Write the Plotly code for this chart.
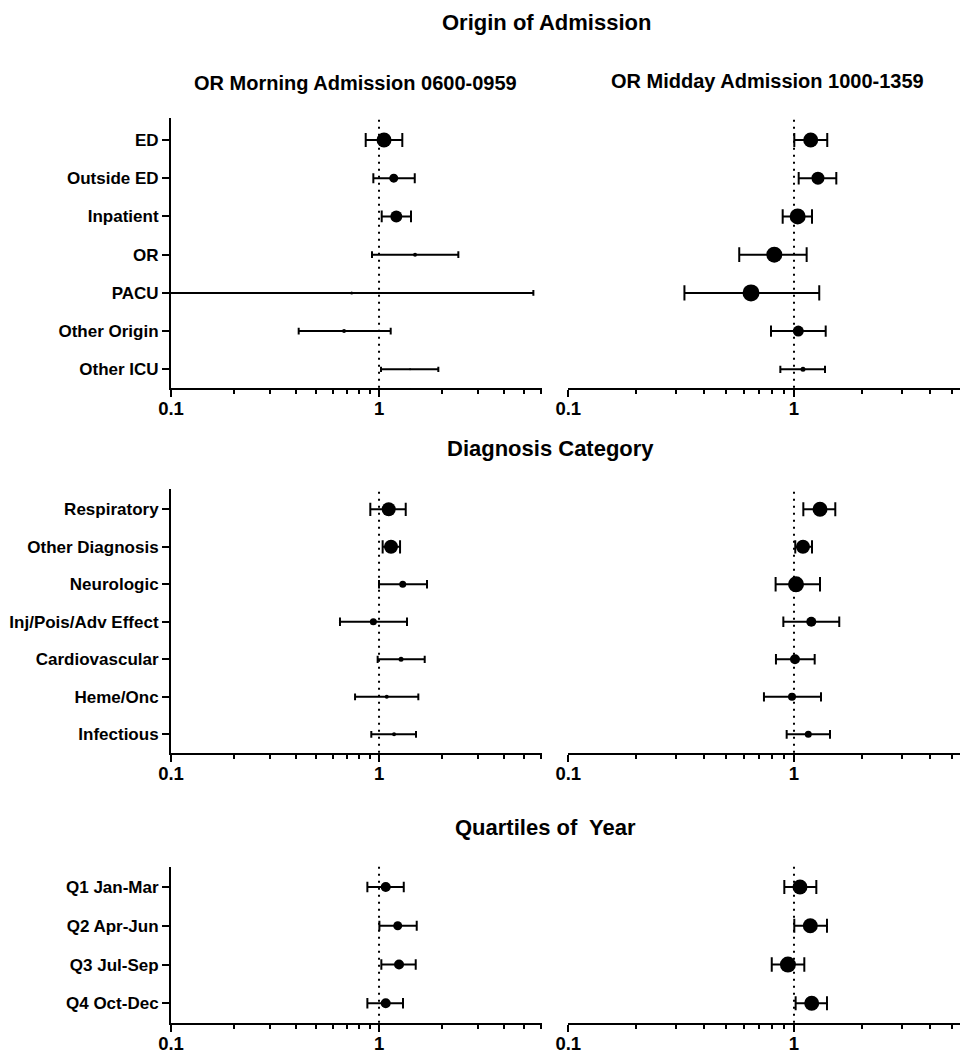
import math
import plotly.graph_objects as go

# ---------------- data ----------------
origin_labels = ["ED", "Outside ED", "Inpatient", "OR", "PACU", "Other Origin", "Other ICU"]
am_origin_or = [1.057, 1.177, 1.211, 1.49, 0.739, 0.679, 1.41]
am_origin_lo = [0.863, 0.939, 1.030, 0.925, 0.08, 0.411, 1.022]
am_origin_hi = [1.294, 1.485, 1.425, 2.406, 5.52, 1.138, 1.928]
am_origin_wt = [15, 9, 12, 4, 3, 4, 2]

md_origin_or = [1.186, 1.277, 1.038, 0.818, 0.645, 1.045, 1.096]
md_origin_lo = [1.003, 1.049, 0.891, 0.572, 0.327, 0.791, 0.870]
md_origin_hi = [1.404, 1.540, 1.202, 1.138, 1.294, 1.382, 1.372]
md_origin_wt = [15, 13, 16, 16, 17, 11, 5]

diag_labels = ["Respiratory", "Other Diagnosis", "Neurologic", "Inj/Pois/Adv Effect",
               "Cardiovascular", "Heme/Onc", "Infectious"]
am_diag_or = [1.113, 1.142, 1.300, 0.939, 1.276, 1.089, 1.181]
am_diag_lo = [0.908, 1.041, 1.000, 0.649, 0.985, 0.767, 0.918]
am_diag_hi = [1.344, 1.262, 1.701, 1.363, 1.658, 1.545, 1.506]
am_diag_wt = [14, 14, 7, 7, 5, 4, 4]

md_diag_or = [1.304, 1.096, 1.021, 1.193, 1.010, 0.980, 1.157]
md_diag_lo = [1.100, 1.013, 0.829, 0.897, 0.832, 0.736, 0.928]
md_diag_hi = [1.524, 1.202, 1.304, 1.587, 1.235, 1.317, 1.444]
md_diag_wt = [15, 14, 16, 10, 10, 8, 7]

quart_labels = ["Q1 Jan-Mar", "Q2 Apr-Jun", "Q3 Jul-Sep", "Q4 Oct-Dec"]
am_q_or = [1.077, 1.230, 1.248, 1.077]
am_q_lo = [0.879, 1.004, 1.026, 0.879]
am_q_hi = [1.315, 1.518, 1.501, 1.304]
am_q_wt = [10, 9, 10, 10]

md_q_or = [1.063, 1.181, 0.940, 1.198]
md_q_lo = [0.906, 1.003, 0.797, 1.017]
md_q_hi = [1.256, 1.400, 1.111, 1.400]
md_q_wt = [15, 15, 16, 15]

major_ticks = [0.1, 1]
major_text = ["0.1", "1"]
minor_ticks = [0.2, 0.3, 0.4, 0.5, 0.6, 0.7, 0.8, 0.9, 2, 3, 4, 5, 6]

section_titles = ["Origin of Admission", "Diagnosis Category", "Quartiles of\u00a0 Year"]
col_titles = ["OR Morning Admission 0600-0959", "OR Midday Admission 1000-1359"]

# ---------------- layout geometry ----------------
OFF = 8                      # default page body margin around the figure
W, H = 968 - OFF, 1054 - OFF
FONT = "Liberation Sans, Arial, sans-serif"


def px_x(p):
    return (p - OFF) / W


def px_y(p):
    return 1 - (p - OFF) / H


rows = [
    dict(labels=origin_labels,
         left=(am_origin_or, am_origin_lo, am_origin_hi, am_origin_wt),
         right=(md_origin_or, md_origin_lo, md_origin_hi, md_origin_wt),
         top=118, bottom=387.7, pad_top=0.574, pad_bot=0.48),
    dict(labels=diag_labels,
         left=(am_diag_or, am_diag_lo, am_diag_hi, am_diag_wt),
         right=(md_diag_or, md_diag_lo, md_diag_hi, md_diag_wt),
         top=489.3, bottom=752.7, pad_top=0.533, pad_bot=0.49),
    dict(labels=quart_labels,
         left=(am_q_or, am_q_lo, am_q_hi, am_q_wt),
         right=(md_q_or, md_q_lo, md_q_hi, md_q_wt),
         top=866.7, bottom=1022.7, pad_top=0.524, pad_bot=0.50),
]

cols = [
    dict(domain=[px_x(171), px_x(541.7)], range=[-1, 0.782], show_y=True),
    dict(domain=[px_x(568.3), 1.0], range=[-1, 0.771], show_y=False),
]

fig = go.Figure()
layout = {}
shapes = []
k = 0
for r, row in enumerate(rows):
    n = len(row["labels"])
    ydom = [px_y(row["bottom"]), px_y(row["top"])]
    for c, col in enumerate(cols):
        k += 1
        xa = "x" if k == 1 else f"x{k}"
        ya = "y" if k == 1 else f"y{k}"
        est, lo, hi, wt = row["left"] if c == 0 else row["right"]
        for i in range(n):
            fig.add_trace(go.Scatter(
                x=[est[i]], y=[i], mode="markers",
                marker=dict(color="black", size=wt[i]),
                error_x=dict(type="data", symmetric=False,
                             array=[hi[i] - est[i]], arrayminus=[est[i] - lo[i]],
                             color="black", thickness=2,
                             width=2 + 0.33 * wt[i]),
                xaxis=xa, yaxis=ya, showlegend=False, cliponaxis=True,
            ))
        layout[f"xaxis{k}" if k > 1 else "xaxis"] = dict(
            type="log", domain=col["domain"], range=col["range"], anchor=ya,
            automargin=False,
            showline=True, linewidth=2, linecolor="black",
            showgrid=False, zeroline=False,
            tickmode="array", tickvals=major_ticks, ticktext=major_text,
            ticks="outside", ticklen=7, tickwidth=2, tickcolor="black",
            ticklabelstandoff=-4,
            tickfont=dict(family=FONT, size=18.5, color="black", weight="bold"),
            minor=dict(tickmode="array", tickvals=minor_ticks, ticks="outside",
                       ticklen=4, tickwidth=2, tickcolor="black", showgrid=False),
        )
        yaxis = dict(
            domain=ydom, range=[n - 1 + row["pad_bot"], -row["pad_top"]], anchor=xa,
            automargin=False, showgrid=False, zeroline=False,
        )
        if col["show_y"]:
            yaxis.update(showline=True, linewidth=2, linecolor="black",
                         tickmode="array", tickvals=list(range(n)), ticktext=row["labels"],
                         ticks="outside", ticklen=7, tickwidth=2, tickcolor="black",
                         tickfont=dict(family=FONT, size=17, color="black", weight="bold"))
        else:
            yaxis.update(showline=False, showticklabels=False, ticks="")
        layout[f"yaxis{k}" if k > 1 else "yaxis"] = yaxis
        shapes.append(dict(type="line", xref=xa, yref=f"{ya} domain",
                           x0=1, x1=1, y0=0, y1=1, layer="below",
                           line=dict(color="black", width=2, dash="2px,5px")))


def ann(text, xc, yc, size):
    return dict(text=text, x=px_x(xc), y=px_y(yc), xref="paper", yref="paper",
                xanchor="center", yanchor="middle", showarrow=False,
                font=dict(family=FONT, size=size, color="black", weight="bold"))


annotations = [
    ann(section_titles[0], 546.7, 23, 22),
    ann(col_titles[0], 355.8, 83, 20),
    ann(col_titles[1], 767.5, 80.5, 20),
    ann(section_titles[1], 550, 448.5, 22),
    ann(section_titles[2], 545, 827, 22),
]

fig.update_layout(
    width=W, height=H, margin=dict(l=0, r=0, t=0, b=0, autoexpand=False),
    paper_bgcolor="white", plot_bgcolor="white",
    shapes=shapes, annotations=annotations, showlegend=False,
    **layout,
)

fig.write_html("out.html")
